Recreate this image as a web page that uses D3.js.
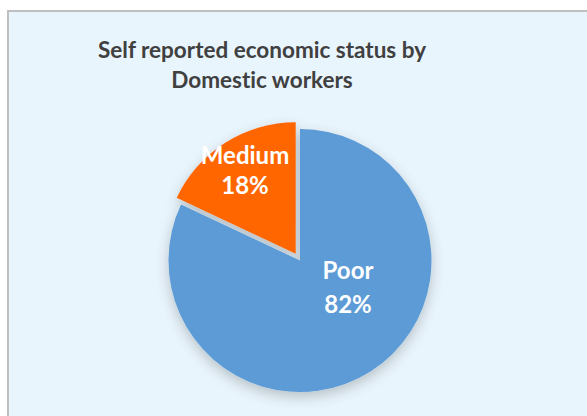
<!DOCTYPE html>
<html><head><meta charset="utf-8">
<script src="https://cdn.jsdelivr.net/npm/d3@7"></script>
<style>html,body{margin:0;padding:0;background:#fff;}svg{display:block;}text{font-variant-ligatures:none;font-feature-settings:"liga" 0;}</style>
</head><body>
<svg id="chart" width="587" height="416"></svg>
<script>
const titleLines = ["Self reported economic status by", "Domestic workers"];
const categories = ["Poor", "Medium"];
const values = [82, 18];
const colors = ["#5B9BD5", "#FF6600"];
const exploded = [0, 8];

const svg = d3.select("#chart");
const defs = svg.append("defs");
const f = defs.append("filter").attr("id","shadow").attr("x","-30%").attr("y","-30%").attr("width","160%").attr("height","160%");
f.append("feGaussianBlur").attr("in","SourceAlpha").attr("stdDeviation",7).attr("result","b");
f.append("feOffset").attr("in","b").attr("dx",0).attr("dy",5).attr("result","o");
f.append("feComponentTransfer").attr("in","o").attr("result","s")
  .append("feFuncA").attr("type","linear").attr("slope",0.22);
const fm = f.append("feMerge");
fm.append("feMergeNode").attr("in","s");
fm.append("feMergeNode").attr("in","SourceGraphic");

// chart area
svg.append("rect").attr("x",8).attr("y",11).attr("width",600).attr("height",420)
  .attr("fill","#E9F5FD").attr("stroke","#BFBFBF").attr("stroke-width",2);

// title
const title = svg.append("text").attr("text-anchor","middle")
  .attr("font-family","Lato, 'Open Sans', sans-serif").attr("font-weight","bold")
  .attr("font-size",22.5).attr("fill","#404040");
titleLines.forEach((t,i)=>{
  title.append("tspan").attr("x",262).attr("y",58+i*30).text(t);
});

const cx = 300, cy = 260.5, r = 131.5;
const pie = d3.pie().sort(null).value(d=>d)(values);
const arc = d3.arc().innerRadius(0).outerRadius(r);
const g = svg.append("g").attr("transform",`translate(${cx},${cy})`).attr("filter","url(#shadow)");

g.selectAll("path").data(pie).join("path")
  .attr("d",arc)
  .attr("fill",(d,i)=>colors[i])
  .attr("transform",(d,i)=>{
    const a=(d.startAngle+d.endAngle)/2;
    return `translate(${Math.sin(a)*exploded[i]},${-Math.cos(a)*exploded[i]})`;
  });

// labels
const labelPos = [[48, 18], [-55, -97]];
const lg = svg.append("g").attr("transform",`translate(${cx},${cy})`);
pie.forEach((d,i)=>{
  const t = lg.append("text").attr("text-anchor","middle")
    .attr("font-family","Lato, 'Open Sans', sans-serif").attr("font-weight","bold")
    .attr("font-size",24).attr("fill","#ffffff");
  t.append("tspan").attr("x",labelPos[i][0]).attr("y",labelPos[i][1]).text(categories[i]);
  t.append("tspan").attr("x",labelPos[i][0]).attr("y",labelPos[i][1]+(i===0?34:30)).text(values[i]+"%");
});
</script>
</body></html>
